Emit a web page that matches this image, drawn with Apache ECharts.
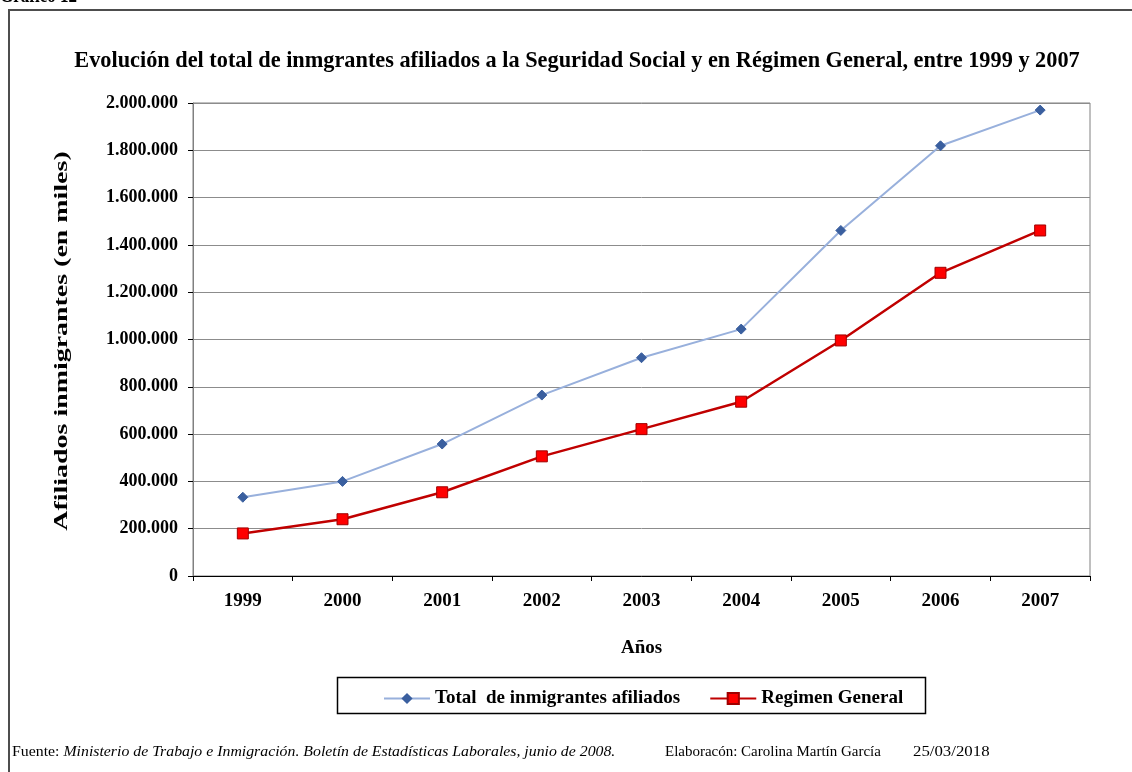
<!DOCTYPE html>
<html>
<head>
<meta charset="utf-8">
<script src="https://cdn.jsdelivr.net/npm/echarts@6/dist/echarts.min.js"></script>
<style>
html,body{margin:0;padding:0;background:#fff;}
#chart{width:1132px;height:772px;}
</style>
</head>
<body>
<div id="chart"></div>
<script>
const years = ['1999','2000','2001','2002','2003','2004','2005','2006','2007'];
const totalAfiliados = [333000, 400000, 558000, 765000, 923000, 1044000, 1461000, 1819000, 1970000];
const regimenGeneral = [180000, 240000, 354000, 506000, 621000, 737000, 996000, 1282000, 1461000];
const yTicks = { min: 0, max: 2000000, interval: 200000 };

const serif = '"Liberation Serif", "Times New Roman", serif';
function fmt(v){ return String(v).replace(/\B(?=(\d{3})+(?!\d))/g, '.'); }

const chart = echarts.init(document.getElementById('chart'));
chart.setOption({
  backgroundColor: '#ffffff',
  animation: false,
  title: {
    text: 'Evolución del total de inmgrantes afiliados a la Seguridad Social y en Régimen General, entre 1999 y 2007',
    left: 572, top: 45, textAlign: 'center',
    textStyle: { fontFamily: serif, fontWeight: 'bold', fontSize: 22.3, color: '#000' }
  },
  grid: { left: 193, right: 42, top: 103, bottom: 196, show: true, borderColor: '#808080', borderWidth: 1, backgroundColor: 'transparent' },
  legend: {
    left: 378, top: 684, itemGap: 29, itemWidth: 46, itemHeight: 14,
    textStyle: { fontFamily: serif, fontWeight: 'bold', fontSize: 19, color: '#000' },
    data: ['Total  de inmigrantes afiliados', 'Regimen General']
  },
  xAxis: {
    type: 'category', data: years, boundaryGap: true,
    name: 'Años', nameLocation: 'middle', nameGap: 63,
    nameTextStyle: { fontFamily: serif, fontWeight: 'bold', fontSize: 19, color: '#000' },
    axisLine: { lineStyle: { color: '#000', width: 1 } },
    axisTick: { show: true, alignWithLabel: false, length: 5, lineStyle: { color: '#000' } },
    axisLabel: { margin: 16, fontFamily: serif, fontWeight: 'bold', fontSize: 19, color: '#000' },
    splitLine: { show: false }
  },
  yAxis: {
    type: 'value', min: yTicks.min, max: yTicks.max, interval: yTicks.interval,
    axisLine: { show: true, lineStyle: { color: '#808080' } },
    axisTick: { show: true, length: 5, lineStyle: { color: '#000' } },
    axisLabel: { margin: 15, fontFamily: serif, fontWeight: 'bold', fontSize: 18, color: '#000', formatter: fmt },
    splitLine: { show: true, lineStyle: { color: '#8c8c8c', width: 1 } }
  },
  series: [
    {
      name: 'Total  de inmigrantes afiliados', type: 'line', data: totalAfiliados,
      symbol: 'diamond', symbolSize: 10,
      lineStyle: { color: '#98b0dc', width: 2 },
      itemStyle: { color: '#3a5f9f', borderColor: '#3a5f9f' },
      z: 3
    },
    {
      name: 'Regimen General', type: 'line', data: regimenGeneral,
      symbol: 'rect', symbolSize: 11,
      lineStyle: { color: '#c00000', width: 2.5 },
      itemStyle: { color: '#ff0000', borderColor: '#a00000', borderWidth: 1 },
      z: 4
    }
  ],
  graphic: [
    { type: 'rect', shape: { x: 9, y: 10, width: 1200, height: 800 }, style: { fill: 'none', stroke: '#4d4d4d', lineWidth: 2 }, silent: true, z: -1 },
    { type: 'rect', shape: { x: 337.5, y: 677.5, width: 588, height: 36 }, style: { fill: 'none', stroke: '#000', lineWidth: 1.5 }, silent: true },
    { type: 'text', x: 0, y: 7, scaleX: 0.85, style: { text: 'Gráfico 12', fill: '#000', font: 'bold 20px ' + serif, textVerticalAlign: 'bottom' } },
    { type: 'text', x: 62, y: 341, rotation: Math.PI / 2, scaleX: 1.47,
      style: { text: 'Afiliados inmigrantes (en miles)', fill: '#000', font: 'bold 19px ' + serif, textAlign: 'center', textVerticalAlign: 'middle' } },
    { type: 'text', x: 12, y: 752, scaleX: 1.13, style: {
        text: '{r|Fuente: }{i|Ministerio de Trabajo e Inmigración. Boletín de Estadísticas Laborales, junio de 2008.}',
        textVerticalAlign: 'middle',
        rich: {
          r: { fontFamily: serif, fontSize: 14, fill: '#000' },
          i: { fontFamily: serif, fontSize: 14, fontStyle: 'italic', fill: '#000' }
        }
      } },
    { type: 'text', x: 665, y: 752, scaleX: 1.07, style: { text: 'Elaboracón: Carolina Martín García', font: '14px ' + serif, fill: '#000', textVerticalAlign: 'middle' } },
    { type: 'text', x: 913, y: 752, scaleX: 1.2, style: { text: '25/03/2018', font: '14px ' + serif, fill: '#000', textVerticalAlign: 'middle' } }
  ]
});
</script>
</body>
</html>
